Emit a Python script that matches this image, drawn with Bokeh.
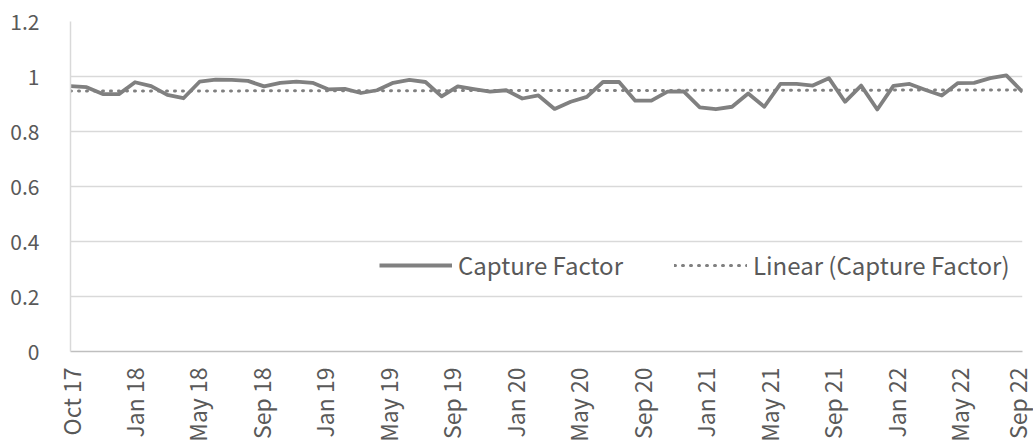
import numpy as np
from bokeh.plotting import figure
from bokeh.models import FixedTicker, Legend, LegendItem, Range1d
from bokeh.embed import file_html
from bokeh.resources import INLINE

# Monthly capture factor, Oct 2017 .. Sep 2022
capture_factor = [
    0.965, 0.961, 0.936, 0.936, 0.979, 0.965, 0.933, 0.921, 0.981, 0.989,
    0.988, 0.984, 0.964, 0.977, 0.981, 0.977, 0.953, 0.955, 0.940, 0.950,
    0.977, 0.988, 0.980, 0.928, 0.964, 0.954, 0.945, 0.950, 0.920, 0.931,
    0.882, 0.908, 0.926, 0.980, 0.980, 0.912, 0.912, 0.945, 0.946, 0.888,
    0.881, 0.890, 0.938, 0.890, 0.973, 0.973, 0.967, 0.994, 0.908, 0.967,
    0.880, 0.966, 0.973, 0.951, 0.931, 0.976, 0.977, 0.994, 1.004, 0.944,
]
# Linear trendline: value at first and last month
linear_trend = [0.947, 0.951]
tick_labels = ["Oct 17", "Jan 18", "May 18", "Sep 18", "Jan 19", "May 19",
               "Sep 19", "Jan 20", "May 20", "Sep 20", "Jan 21", "May 21",
               "Sep 21", "Jan 22", "May 22", "Sep 22"]
y_ticks = [0, 0.2, 0.4, 0.6, 0.8, 1.0, 1.2]
y_labels = ["0", "0.2", "0.4", "0.6", "0.8", "1", "1.2"]

n = len(capture_factor)
idx = np.arange(n)
span = len(tick_labels) - 1
# x in "label units": first point at first label, last point at last label
xs = idx * span / (n - 1)

FONT = "Noto Sans CJK JP"
TXT = "#595959"
GRAY = "#808080"

p = figure(width=1033, height=444, output_backend="svg", toolbar_location=None,
           x_range=Range1d(0, span), y_range=Range1d(0, 1.2),
           min_border_left=70, min_border_right=11, min_border_top=21,
           min_border_bottom=93)
p.outline_line_color = None
p.background_fill_color = "white"
p.border_fill_color = "white"

r1 = p.line(xs, capture_factor, line_color=GRAY, line_width=3.8, line_join="round")
r2 = p.line([0, span], linear_trend, line_color=GRAY, line_width=3, line_dash="1 7",
            line_cap="round")

# axes
p.xaxis.ticker = FixedTicker(ticks=list(range(len(tick_labels))))
p.xaxis.major_label_overrides = {i: lab for i, lab in enumerate(tick_labels)}
p.xaxis.major_label_orientation = np.pi / 2
p.xaxis.major_label_text_font = FONT
p.xaxis.major_label_text_font_size = "23px"
p.xaxis.major_label_text_color = TXT
p.xaxis.major_label_standoff = 10
p.xaxis.major_tick_line_color = None
p.xaxis.minor_tick_line_color = None
p.xaxis.axis_line_color = "#bfbfbf"
p.xaxis.axis_line_width = 1.5

p.yaxis.ticker = FixedTicker(ticks=y_ticks)
p.yaxis.major_label_overrides = {t: lab for t, lab in zip(y_ticks, y_labels)}
p.yaxis.major_label_text_font = FONT
p.yaxis.major_label_text_font_size = "21px"
p.yaxis.major_label_text_color = TXT
p.yaxis.major_label_standoff = 25
p.yaxis.major_tick_line_color = None
p.yaxis.minor_tick_line_color = None
p.yaxis.axis_line_color = "#d9d9d9"
p.yaxis.axis_line_width = 1.5

p.xgrid.grid_line_color = None
p.ygrid.grid_line_color = "#d9d9d9"
p.ygrid.grid_line_width = 1.5

legend = Legend(items=[LegendItem(label="Capture Factor", renderers=[r1]),
                       LegendItem(label="Linear (Capture Factor)", renderers=[r2])],
                location=(309, 69), orientation="horizontal")
legend.glyph_width = 73
legend.glyph_height = 24
legend.label_height = 24
legend.label_standoff = 6
legend.spacing = 51
legend.padding = 0
legend.margin = 0
legend.border_line_color = None
legend.background_fill_alpha = 0
legend.label_text_font = FONT
legend.label_text_font_size = "24px"
legend.label_text_color = TXT
p.add_layout(legend, "center")

open("out.html", "w").write(file_html(p, INLINE))
